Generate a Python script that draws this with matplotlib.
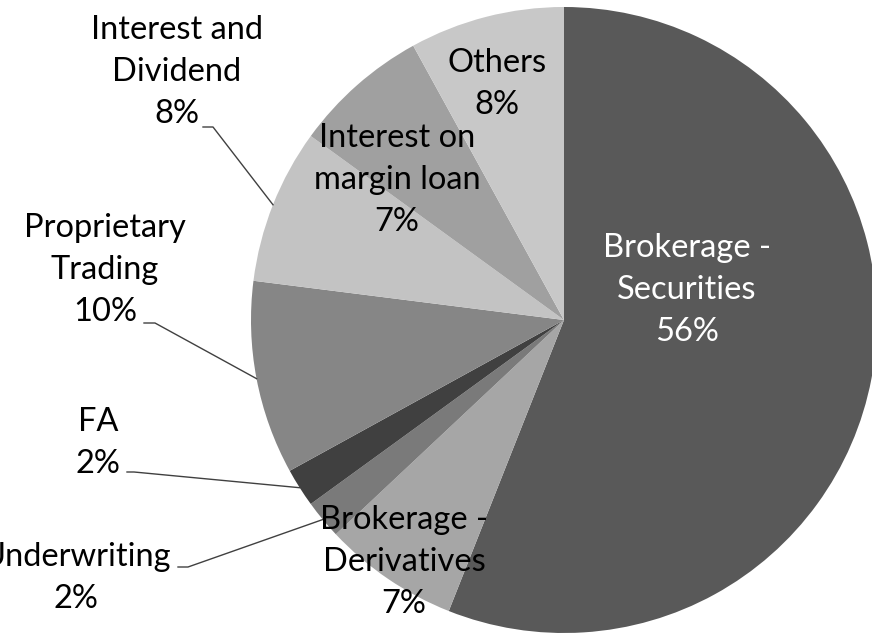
import numpy as np
import matplotlib.pyplot as plt

labels = ["Brokerage -\nSecurities", "Brokerage -\nDerivatives", "Underwriting", "FA",
          "Proprietary\nTrading", "Interest and\nDividend", "Interest on\nmargin loan", "Others"]
shares = [56, 7, 2, 2, 10, 8, 7, 8]
colors = ["#595959", "#a6a6a6", "#7a7a7a", "#404040", "#868686", "#c3c3c3", "#a0a0a0", "#c8c8c8"]
text_colors = ["white", "black", "black", "black", "black", "black", "black", "black"]

# label placement (pixel coords, y from top) and leader-line elbows (None = label inside)
label_pos = [(687, 290), (404, 562), (76, 578), (98, 443), (105, 270), (177, 72), (397, 180), (497, 84)]
leaders = [None, None, [(178, 567), (188, 567)], [(127, 472), (134, 472)],
           [(144, 323), (155, 323)], [(203, 127), (213, 127)], None, None]

W, H = 872, 637
fig = plt.figure(figsize=(W / 100, H / 100), dpi=100)
ax = fig.add_axes([0, 0, 1, 1])

cx, cy, r = 564, H - 320, 313
wedges, _ = ax.pie(shares, colors=colors, startangle=90, counterclock=False,
                   center=(cx, cy), radius=r, frame=True)
ax.set_xlim(0, W)
ax.set_ylim(0, H)
ax.axis("off")

for i, w in enumerate(wedges):
    lx, ly = label_pos[i]
    ax.text(lx, H - ly, f"{labels[i]}\n{shares[i]}%", ha="center", va="center",
            fontsize=23.5, family=["Lato", "DejaVu Sans"], color=text_colors[i],
            linespacing=1.5)
    if leaders[i] is not None:
        mid = np.deg2rad((w.theta1 + w.theta2) / 2)
        ex, ey = cx + r * np.cos(mid), cy + r * np.sin(mid)
        xs = [p[0] for p in leaders[i]] + [ex]
        ys = [H - p[1] for p in leaders[i]] + [ey]
        ax.plot(xs, ys, color="#404040", lw=1)

fig.savefig("out.png", dpi=100)
